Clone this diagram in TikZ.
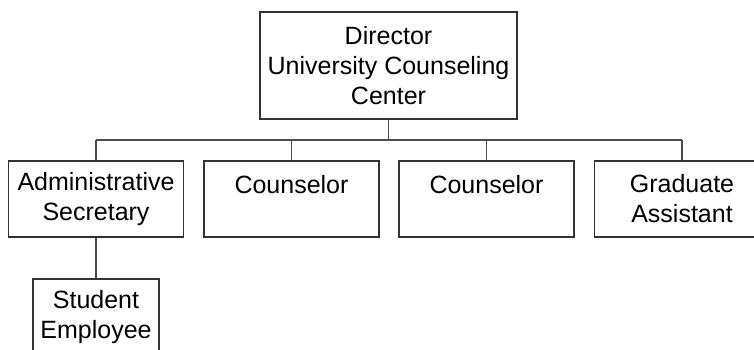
\documentclass[tikz,border=0pt]{standalone}
\usepackage{fontspec}
\setmainfont{Liberation Sans}
\begin{document}
\begin{tikzpicture}[x=1pt,y=-1pt,
  orgbox/.style={draw=black!80, line width=1.1pt, rectangle, align=center, inner sep=0pt,
    font=\fontsize{25}{30}\selectfont, minimum height=76pt, minimum width=175pt},
  link/.style={draw=black!70, line width=1.1pt}]
\useasboundingbox (0,0) rectangle (754,349);
\clip (0,0) rectangle (754,349);
\fill[white] (0,0) rectangle (754,349);
\node[orgbox, minimum width=257pt, minimum height=107pt] (dir) at (388.5,65.5) {Director\\University Counseling\\Center};
\node[orgbox] (adm) at (96,199) {Administrative\\Secretary};
\node[orgbox] (c1) at (291.5,199) {Counselor\\\mbox{}};
\node[orgbox] (c2) at (486.5,199) {Counselor\\\mbox{}};
\node[orgbox] (grad) at (682,199) {Graduate\\Assistant};
\node[orgbox, minimum width=126pt] (stu) at (96,317) {Student\\Employee};
\coordinate (bar) at (0,140);
\draw[link] (dir.south) -- (dir.south |- bar);
\draw[link] (adm.north |- bar) -- (grad.north |- bar);
\draw[link] (adm.north |- bar) -- (adm.north);
\draw[link] (c1.north |- bar) -- (c1.north);
\draw[link] (c2.north |- bar) -- (c2.north);
\draw[link] (grad.north |- bar) -- (grad.north);
\draw[link] (adm.south) -- (stu.north);
\end{tikzpicture}
\end{document}
